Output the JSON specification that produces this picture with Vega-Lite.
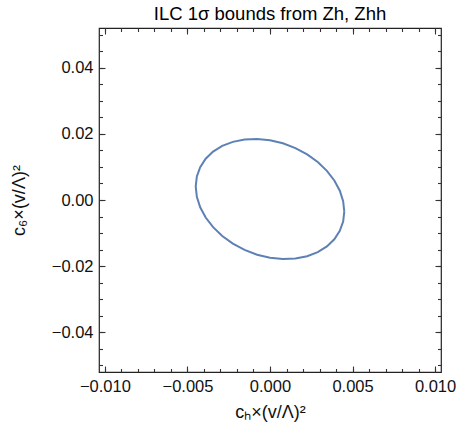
{
  "$schema": "https://vega.github.io/schema/vega-lite/v6.json",
  "autosize": {"type": "none"},
  "padding": {"left": 99, "top": 28, "right": 21, "bottom": 61},
  "width": 342,
  "height": 344,
  "background": "white",
  "title": {"text": "ILC 1σ bounds from Zh, Zhh", "font": "Liberation Sans", "fontSize": 18.5, "fontWeight": "normal", "color": "#000", "anchor": "middle", "offset": 4},
  "config": {
    "view": {"stroke": "#222", "strokeWidth": 1.2},
    "axis": {"grid": false, "domain": false, "labelFlush": false, "labelOverlap": false, "tickColor": "#333", "tickWidth": 1.1}
  },
  "data": {"values": [
    {"t": 0, "x": 0.0045, "y": -0.0035},
    {"t": 10, "x": 0.004432, "y": -0.000352},
    {"t": 20, "x": 0.004229, "y": 0.002817},
    {"t": 30, "x": 0.003897, "y": 0.005909},
    {"t": 40, "x": 0.003447, "y": 0.008831},
    {"t": 50, "x": 0.002893, "y": 0.011492},
    {"t": 60, "x": 0.00225, "y": 0.013815},
    {"t": 70, "x": 0.001539, "y": 0.015727},
    {"t": 80, "x": 0.000781, "y": 0.01717},
    {"t": 90, "x": 0.0, "y": 0.0181},
    {"t": 100, "x": -0.000781, "y": 0.01849},
    {"t": 110, "x": -0.001539, "y": 0.018327},
    {"t": 120, "x": -0.00225, "y": 0.017615},
    {"t": 130, "x": -0.002893, "y": 0.016378},
    {"t": 140, "x": -0.003447, "y": 0.014653},
    {"t": 150, "x": -0.003897, "y": 0.012491},
    {"t": 160, "x": -0.004229, "y": 0.009959},
    {"t": 170, "x": -0.004432, "y": 0.007132},
    {"t": 180, "x": -0.0045, "y": 0.0041},
    {"t": 190, "x": -0.004432, "y": 0.000952},
    {"t": 200, "x": -0.004229, "y": -0.002217},
    {"t": 210, "x": -0.003897, "y": -0.005309},
    {"t": 220, "x": -0.003447, "y": -0.008231},
    {"t": 230, "x": -0.002893, "y": -0.010892},
    {"t": 240, "x": -0.00225, "y": -0.013215},
    {"t": 250, "x": -0.001539, "y": -0.015127},
    {"t": 260, "x": -0.000781, "y": -0.01657},
    {"t": 270, "x": 0.0, "y": -0.0175},
    {"t": 280, "x": 0.000781, "y": -0.01789},
    {"t": 290, "x": 0.001539, "y": -0.017727},
    {"t": 300, "x": 0.00225, "y": -0.017015},
    {"t": 310, "x": 0.002893, "y": -0.015778},
    {"t": 320, "x": 0.003447, "y": -0.014053},
    {"t": 330, "x": 0.003897, "y": -0.011891},
    {"t": 340, "x": 0.004229, "y": -0.009359},
    {"t": 350, "x": 0.004432, "y": -0.006532},
    {"t": 360, "x": 0.0045, "y": -0.0035}
  ]},
  "layer": [
    {
      "mark": {"type": "line", "color": "#5E81B5", "strokeWidth": 2, "clip": true},
      "encoding": {
        "order": {"field": "t", "type": "quantitative"},
        "x": {"field": "x", "type": "quantitative",
          "scale": {"domain": [-0.01036, 0.01036], "nice": false, "zero": false},
          "axis": {"orient": "bottom", "values": [-0.01, -0.005, 0, 0.005, 0.01], "format": ".3f", "ticks": false,
            "labelFont": "Liberation Sans", "labelFontSize": 16.5, "labelColor": "#111", "labelPadding": 6,
            "title": "cₕ×(v/Λ)²", "titleFont": "Liberation Sans", "titleFontSize": 18, "titleFontWeight": "normal", "titleColor": "#111", "titlePadding": 9}},
        "y": {"field": "y", "type": "quantitative",
          "scale": {"domain": [-0.0521, 0.0521], "nice": false, "zero": false},
          "axis": {"orient": "left", "values": [-0.04, -0.02, 0, 0.02, 0.04], "format": ".2f", "ticks": false,
            "labelFont": "Liberation Sans", "labelFontSize": 16.5, "labelColor": "#111", "labelPadding": 6,
            "title": "c₆×(v/Λ)²", "titleFont": "Liberation Sans", "titleFontSize": 18, "titleFontWeight": "normal", "titleColor": "#111",
            "titleX": -80, "titleY": 172, "titleAngle": -90, "titleAlign": "center", "titleBaseline": "middle"}}
      }
    },
    {
      "mark": {"type": "line", "opacity": 0},
      "encoding": {
        "order": {"field": "t", "type": "quantitative"},
        "x": {"field": "x", "type": "quantitative", "axis": {"orient": "bottom", "values": [-0.01, -0.005, 0, 0.005, 0.01], "tickSize": -6, "labels": false, "title": null}},
        "y": {"field": "y", "type": "quantitative", "axis": {"orient": "left", "values": [-0.04, -0.02, 0, 0.02, 0.04], "tickSize": -6, "labels": false, "title": null}}
      }
    },
    {
      "mark": {"type": "line", "opacity": 0},
      "encoding": {
        "order": {"field": "t", "type": "quantitative"},
        "x": {"field": "x", "type": "quantitative", "axis": {"orient": "bottom", "values": [-0.01, -0.009, -0.008, -0.007, -0.006, -0.005, -0.004, -0.003, -0.002, -0.001, 0, 0.001, 0.002, 0.003, 0.004, 0.005, 0.006, 0.007, 0.008, 0.009, 0.01], "tickSize": -3.5, "labels": false, "title": null}},
        "y": {"field": "y", "type": "quantitative", "axis": {"orient": "left", "values": [-0.05, -0.045, -0.04, -0.035, -0.03, -0.025, -0.02, -0.015, -0.01, -0.005, 0, 0.005, 0.01, 0.015, 0.02, 0.025, 0.03, 0.035, 0.04, 0.045, 0.05], "tickSize": -3.5, "labels": false, "title": null}}
      }
    },
    {
      "mark": {"type": "line", "opacity": 0},
      "encoding": {
        "order": {"field": "t", "type": "quantitative"},
        "x": {"field": "x", "type": "quantitative", "axis": {"orient": "top", "values": [-0.01, -0.005, 0, 0.005, 0.01], "tickSize": -6, "labels": false, "title": null}},
        "y": {"field": "y", "type": "quantitative", "axis": {"orient": "right", "values": [-0.04, -0.02, 0, 0.02, 0.04], "tickSize": -6, "labels": false, "title": null}}
      }
    },
    {
      "mark": {"type": "line", "opacity": 0},
      "encoding": {
        "order": {"field": "t", "type": "quantitative"},
        "x": {"field": "x", "type": "quantitative", "axis": {"orient": "top", "values": [-0.01, -0.009, -0.008, -0.007, -0.006, -0.005, -0.004, -0.003, -0.002, -0.001, 0, 0.001, 0.002, 0.003, 0.004, 0.005, 0.006, 0.007, 0.008, 0.009, 0.01], "tickSize": -3.5, "labels": false, "title": null}},
        "y": {"field": "y", "type": "quantitative", "axis": {"orient": "right", "values": [-0.05, -0.045, -0.04, -0.035, -0.03, -0.025, -0.02, -0.015, -0.01, -0.005, 0, 0.005, 0.01, 0.015, 0.02, 0.025, 0.03, 0.035, 0.04, 0.045, 0.05], "tickSize": -3.5, "labels": false, "title": null}}
      }
    }
  ],
  "resolve": {"axis": {"x": "independent", "y": "independent"}}
}
